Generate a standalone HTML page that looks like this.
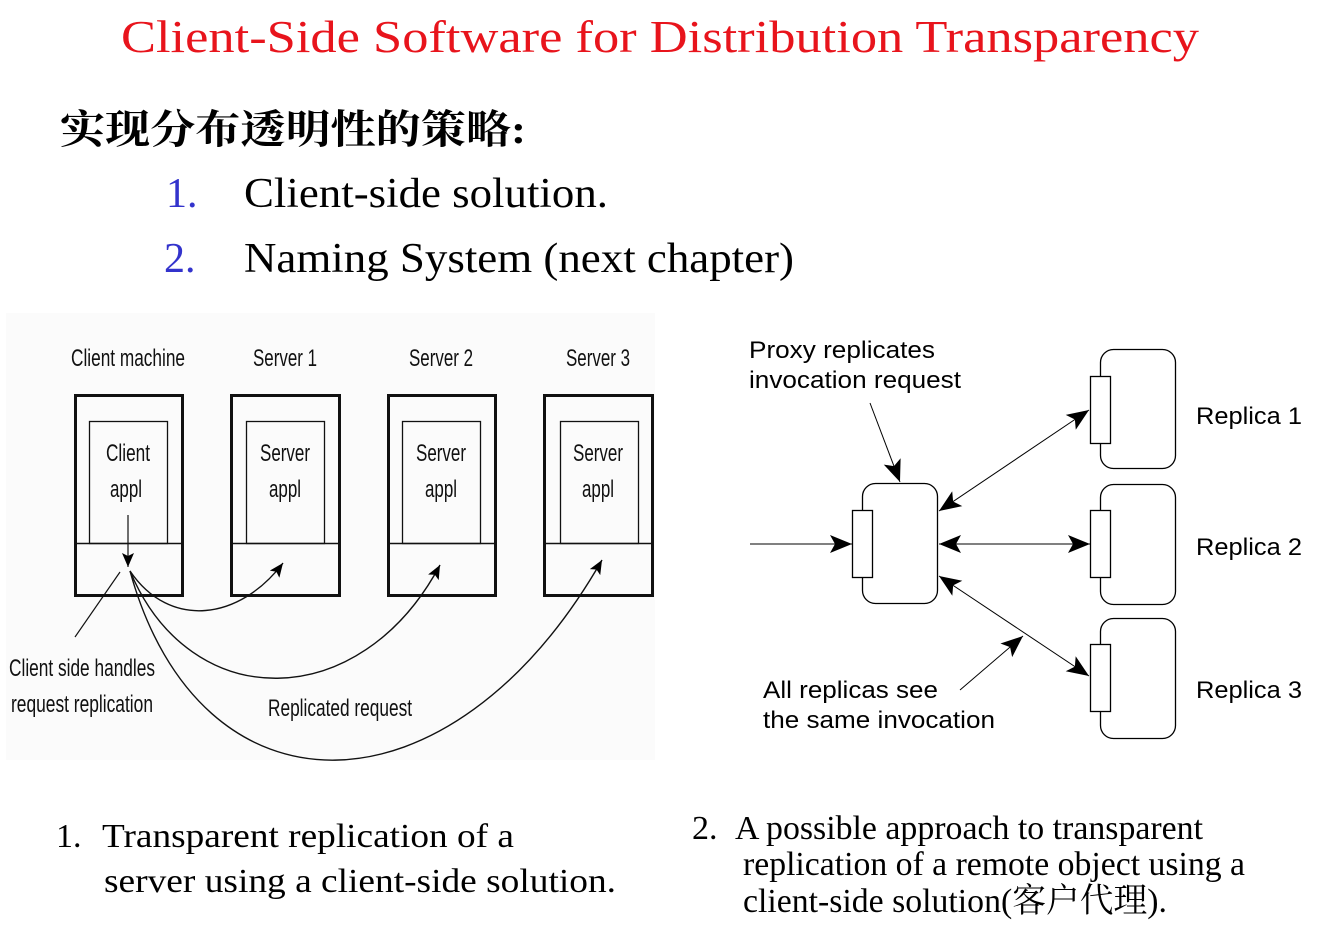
<!DOCTYPE html>
<html><head><meta charset="utf-8"><style>
html,body{margin:0;padding:0;background:#fff;}
svg{display:block;}
</style></head><body>
<svg width="1326" height="934" viewBox="0 0 1326 934" xmlns="http://www.w3.org/2000/svg">
<defs>
<marker id="big" markerUnits="userSpaceOnUse" markerWidth="24" markerHeight="20" refX="22" refY="9" orient="auto-start-reverse" viewBox="0 0 24 18">
<path d="M0,0 L22,9 L0,18 L5,9 Z" fill="#000"/></marker>
<marker id="sm" markerUnits="userSpaceOnUse" markerWidth="16" markerHeight="14" refX="14" refY="6" orient="auto" viewBox="0 0 16 12">
<path d="M0,0 L14,6 L0,12 L3,6 Z" fill="#000"/></marker>
</defs>
<text x="660" y="52" text-anchor="middle" font-family="Liberation Serif, serif" font-size="46" fill="#e8141c" textLength="1078" lengthAdjust="spacingAndGlyphs">Client-Side Software for Distribution Transparency</text>
<text x="60" y="143" font-family="Liberation Serif, 'Noto Serif CJK SC', serif" font-weight="bold" font-size="40" fill="#000" textLength="466" lengthAdjust="spacingAndGlyphs">实现分布透明性的策略:</text>
<text x="166" y="207" font-family="Liberation Serif, serif" font-size="42" fill="#3333cc">1.</text>
<text x="244" y="207" font-family="Liberation Serif, serif" font-size="42" fill="#000" textLength="364" lengthAdjust="spacingAndGlyphs">Client-side solution.</text>
<text x="164" y="272" font-family="Liberation Serif, serif" font-size="42" fill="#3333cc">2.</text>
<text x="244" y="272" font-family="Liberation Serif, serif" font-size="42" fill="#000" textLength="550" lengthAdjust="spacingAndGlyphs">Naming System (next chapter)</text>

<rect x="6" y="313" width="649" height="447" fill="#fbfbfb"/>
<g font-family="Liberation Sans, sans-serif" font-size="24" fill="#111" text-anchor="middle">
<text x="128" y="366" textLength="114" lengthAdjust="spacingAndGlyphs">Client machine</text>
<text x="285" y="366" textLength="64" lengthAdjust="spacingAndGlyphs">Server 1</text>
<text x="441" y="366" textLength="64" lengthAdjust="spacingAndGlyphs">Server 2</text>
<text x="598" y="366" textLength="64" lengthAdjust="spacingAndGlyphs">Server 3</text>
<text x="128" y="461" textLength="44" lengthAdjust="spacingAndGlyphs">Client</text>
<text x="126" y="497" textLength="32" lengthAdjust="spacingAndGlyphs">appl</text>
<text x="285" y="461" textLength="50" lengthAdjust="spacingAndGlyphs">Server</text>
<text x="285" y="497" textLength="32" lengthAdjust="spacingAndGlyphs">appl</text>
<text x="441" y="461" textLength="50" lengthAdjust="spacingAndGlyphs">Server</text>
<text x="441" y="497" textLength="32" lengthAdjust="spacingAndGlyphs">appl</text>
<text x="598" y="461" textLength="50" lengthAdjust="spacingAndGlyphs">Server</text>
<text x="598" y="497" textLength="32" lengthAdjust="spacingAndGlyphs">appl</text>
<text x="82" y="676" textLength="146" lengthAdjust="spacingAndGlyphs">Client side handles</text>
<text x="82" y="712" textLength="142" lengthAdjust="spacingAndGlyphs">request replication</text>
<text x="340" y="716" textLength="144" lengthAdjust="spacingAndGlyphs">Replicated request</text>
</g>
<g fill="none" stroke="#111">
<rect x="75.5" y="395.5" width="107" height="200" stroke-width="3"/>
<rect x="231.5" y="395.5" width="108" height="200" stroke-width="3"/>
<rect x="388.5" y="395.5" width="107" height="200" stroke-width="3"/>
<rect x="544.5" y="395.5" width="108" height="200" stroke-width="3"/>
<rect x="89.5" y="421.5" width="78" height="122" stroke-width="1.3"/>
<rect x="246.5" y="421.5" width="78" height="122" stroke-width="1.3"/>
<rect x="402.5" y="421.5" width="78" height="122" stroke-width="1.3"/>
<rect x="560.5" y="421.5" width="78" height="122" stroke-width="1.3"/>
<line x1="75" y1="543.5" x2="183" y2="543.5" stroke-width="1.5"/>
<line x1="231" y1="543.5" x2="340" y2="543.5" stroke-width="1.5"/>
<line x1="388" y1="543.5" x2="496" y2="543.5" stroke-width="1.5"/>
<line x1="544" y1="543.5" x2="653" y2="543.5" stroke-width="1.5"/>
<line x1="128" y1="515" x2="128" y2="567" stroke-width="1.2" marker-end="url(#sm)"/>
<line x1="75" y1="637" x2="120" y2="572" stroke-width="1.2"/>
<path d="M130,571 C170,630 240,620 283,563" stroke-width="1.4" marker-end="url(#sm)"/>
<path d="M130,571 C190,715 360,715 440,565" stroke-width="1.4" marker-end="url(#sm)"/>
<path d="M130,571 C200,825 450,825 602,560" stroke-width="1.4" marker-end="url(#sm)"/>
</g>

<g font-family="Liberation Sans, sans-serif" font-size="24" fill="#000" lengthAdjust="spacingAndGlyphs">
<text x="749" y="358" textLength="186" lengthAdjust="spacingAndGlyphs">Proxy replicates</text>
<text x="749" y="388" textLength="212" lengthAdjust="spacingAndGlyphs">invocation request</text>
<text x="763" y="698" textLength="175" lengthAdjust="spacingAndGlyphs">All replicas see</text>
<text x="763" y="728" textLength="232" lengthAdjust="spacingAndGlyphs">the same invocation</text>
<text x="1196" y="424" textLength="106" lengthAdjust="spacingAndGlyphs">Replica 1</text>
<text x="1196" y="555" textLength="106" lengthAdjust="spacingAndGlyphs">Replica 2</text>
<text x="1196" y="698" textLength="106" lengthAdjust="spacingAndGlyphs">Replica 3</text>
</g>
<g fill="#fff" stroke="#000" stroke-width="1.3">
<rect x="862.5" y="483.5" width="75" height="120" rx="13"/>
<rect x="852.5" y="510.5" width="20" height="67"/>
<rect x="1100.5" y="349.5" width="75" height="119" rx="13"/>
<rect x="1090.5" y="376.5" width="20" height="67"/>
<rect x="1100.5" y="484.5" width="75" height="120" rx="13"/>
<rect x="1090.5" y="510.5" width="20" height="67"/>
<rect x="1100.5" y="618.5" width="75" height="120" rx="13"/>
<rect x="1090.5" y="644.5" width="20" height="67"/>
</g>
<g stroke="#000" stroke-width="1" fill="none">
<line x1="750" y1="544" x2="852" y2="544" marker-end="url(#big)"/>
<line x1="939" y1="511" x2="1089" y2="410" marker-start="url(#big)" marker-end="url(#big)"/>
<line x1="939" y1="544" x2="1090" y2="544" marker-start="url(#big)" marker-end="url(#big)"/>
<line x1="939" y1="576" x2="1089" y2="676" marker-start="url(#big)" marker-end="url(#big)"/>
<line x1="870" y1="403" x2="900" y2="482" marker-end="url(#big)"/>
<line x1="960" y1="690" x2="1023" y2="636" marker-end="url(#big)"/>
</g>

<g font-family="Liberation Serif, 'Noto Serif CJK SC', serif" font-size="34" fill="#000">
<text x="56" y="847">1.</text>
<text x="102" y="847" textLength="412" lengthAdjust="spacingAndGlyphs">Transparent replication of a</text>
<text x="104" y="892" textLength="512" lengthAdjust="spacingAndGlyphs">server using a client-side solution.</text>
<text x="692" y="839">2.</text>
<text x="735" y="839" textLength="468" lengthAdjust="spacingAndGlyphs">A possible approach to transparent</text>
<text x="743" y="875" textLength="502" lengthAdjust="spacingAndGlyphs">replication of a remote object using a</text>
<text x="743" y="912" textLength="424" lengthAdjust="spacingAndGlyphs">client-side solution(客户代理).</text>
</g>
</svg>
</body></html>
